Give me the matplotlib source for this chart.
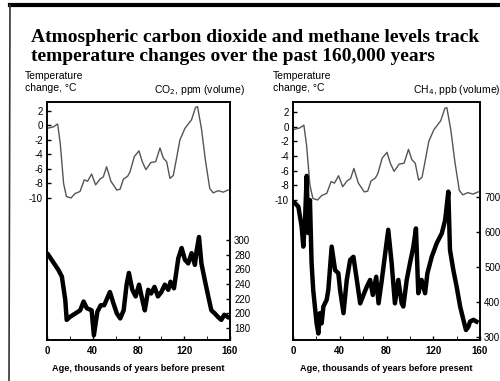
import numpy as np
from matplotlib import pyplot as plt

plt.rcParams['font.family'] = ['Liberation Sans', 'DejaVu Sans']
plt.rcParams['axes.unicode_minus'] = False

# temperature change (deg C) vs age (thousand years before present)
temp_age = [0, 5.5, 9.3, 11.6, 14.5, 17, 21, 24.5, 28.9, 32.6, 35.5, 39, 42.5,
            46.3, 49.2, 52.1, 55.9, 61, 63.9, 66.8, 70.5, 72.6, 76.3, 80.4,
            83.3, 86.5, 90.9, 95, 98.8, 101.7, 104.6, 107.5, 110.4, 113.3,
            116.2, 120.6, 126.4, 129.9, 131.6, 135, 138.5, 142.3, 145.3,
            149.6, 154, 158.4]
temp = [-0.4, -0.2, 0.2, -2.5, -8, -9.8, -10, -9.4, -9.1, -7.5, -7.7, -6.7,
        -8.2, -7.4, -7.1, -5.7, -7.7, -8.9, -8.8, -7.4, -7.0, -6.4, -4.3, -3.5,
        -5.0, -6.1, -5.1, -5.0, -3.1, -4.5, -5.0, -7.3, -6.9, -4.5, -2.0, -0.4,
        0.8, 2.5, 2.6, -0.4, -4.8, -8.7, -9.3, -9.0, -9.2, -8.9]

# CO2, ppm
co2_age = [1, 7, 10, 13, 16, 17.2, 20, 25, 29, 32, 34.8, 39, 41, 44, 47, 50,
           55, 58, 61, 64, 67, 69.6, 71.6, 74.6, 77.5, 80.5, 83.4, 85.5, 88.5,
           91, 94, 97, 100, 103, 106, 108, 111, 114.8, 117.7, 120.6, 123.5,
           126.4, 129.3, 130.7, 132.9, 135, 138, 141, 143.7, 146.6, 149.5,
           152.4, 155, 158]
co2 = [280, 266, 259, 250, 218, 191, 195, 200, 204, 216, 207, 204, 170, 202,
       211, 211, 229, 214, 200, 193, 204, 239, 255, 232, 223, 239, 218, 204,
       232, 227, 236, 223, 229, 239, 232, 243, 234, 275, 289, 273, 268, 282,
       266, 284, 304, 268, 245, 223, 204, 200, 195, 191, 198, 195]

# CH4, ppb
ch4_age = [1.7, 4.6, 7.4, 8.8, 10.3, 11.7, 13, 14.5, 15.9, 17.3, 20.2, 21.7,
           23, 24.5, 26, 28.8, 30.2, 33.1, 36, 38.8, 40.3, 43.2, 46, 48.9, 51.7,
           54.6, 57.5, 60.3, 63.2, 66, 68.3, 71.2, 73.2, 76, 78.9, 81.5, 84.4,
           87.2, 90.1, 93, 94.4, 97.3, 100.1, 103, 105.2, 107.2, 110, 113, 115,
           118.7, 123, 127.3, 130.2, 132.9, 134.3, 137.2, 140, 143, 145.8, 148,
           150, 151.5, 154.4, 157]
ch4 = [682, 672, 615, 558, 634, 760, 597, 691, 511, 434, 339, 310, 368, 339,
       387, 406, 434, 558, 491, 482, 434, 368, 463, 520, 529, 463, 396, 420,
       444, 463, 420, 472, 396, 463, 539, 606, 511, 396, 463, 396, 387, 463,
       511, 558, 610, 425, 463, 425, 482, 529, 568, 596, 634, 715, 549, 491,
       444, 387, 349, 320, 329, 344, 349, 344]

W, H = 500, 381
fig = plt.figure(figsize=(W / 100, H / 100), dpi=100)


def box(x0, x1, y0, y1):
    return [x0 / W, 1 - y1 / H, (x1 - x0) / W, (y1 - y0) / H]


def panel(rect, tlim, gas_age, gas, glim, gticks, glabel, lx, rx):
    ax = fig.add_axes(rect)
    ax.plot(temp_age, temp, color='#555555', lw=1.0)
    ax.set_xlim(0, 160)
    ax.set_ylim(*tlim)
    ax.set_yticks([2, 0, -2, -4, -6, -8, -10])
    ax.set_xticks(range(0, 161, 40))
    ax.set_xticks(range(20, 161, 40), minor=True)
    ax.tick_params(direction='in', length=3, width=1, labelsize=7,
                   top=False, pad=3)
    ax.tick_params(axis='x', which='both', direction='in', length=3, pad=4)
    for lab in ax.get_xticklabels():
        lab.set_fontweight('bold')
    ax2 = ax.twinx()
    ax2.plot(gas_age, gas, color='black', lw=3.2, solid_joinstyle='round')
    ax2.set_ylim(*glim)
    ax2.set_yticks(gticks)
    ax2.tick_params(direction='in', length=3, width=1, labelsize=7, pad=3)
    for a in (ax, ax2):
        for s in a.spines.values():
            s.set_linewidth(1.2)
    ax.set_xlabel('Age, thousands of years before present', fontsize=6.6,
                  fontweight='bold', labelpad=6)
    fig.text(lx / W, 1 - 82 / H, 'Temperature\nchange, °C', fontsize=7.5,
             va='center', ha='left', linespacing=1.3)
    fig.text(rx / W, 1 - 90 / H, glabel, fontsize=7.5, va='center', ha='right')
    return ax


panel(box(47, 230, 102, 340), (-29.6, 3.24), co2_age, co2, (163.6, 488),
      [180, 200, 220, 240, 260, 280, 300], 'CO$_2$, ppm (volume)', 25, 245)
panel(box(293, 480, 102, 340), (-29.1, 3.36), ch4_age, ch4, (291.4, 971),
      [300, 400, 500, 600, 700], 'CH$_4$, ppb (volume)', 273, 501)

fig.text(31 / W, 1 - 47 / H,
         'Atmospheric carbon dioxide and methane levels track\n'
         'temperature changes over the past 160,000 years',
         family='Liberation Serif', fontweight='bold', fontsize=14,
         va='center', ha='left', linespacing=1.15)

# border of the scanned page
fig.add_artist(plt.Line2D([10 / W, 1], [1 - 5 / H, 1 - 5 / H], color='black',
                          lw=3, transform=fig.transFigure))
fig.add_artist(plt.Line2D([10 / W, 9 / W], [1 - 5 / H, 0], color='#333333',
                          lw=1.2, transform=fig.transFigure))

fig.savefig('out.png', dpi=100)
plt.close()
